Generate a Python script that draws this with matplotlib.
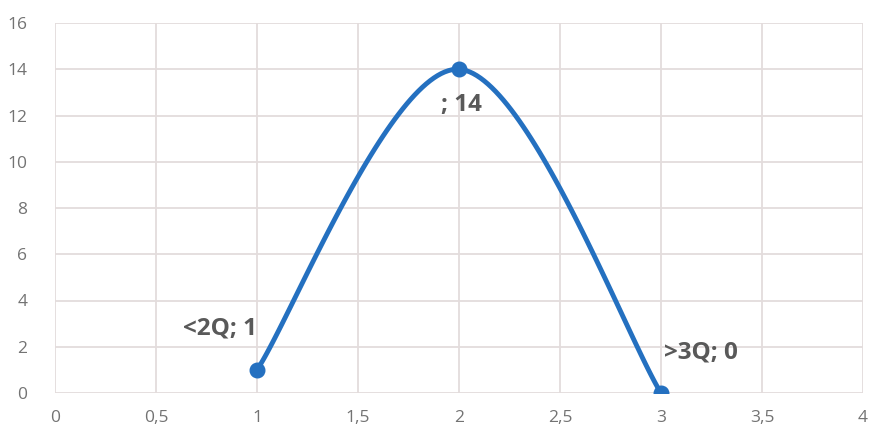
import numpy as np
import matplotlib.pyplot as plt

# data
x = [1, 2, 3]
y = [1, 14, 0]
labels = ["<2Q; 1", "; 14", ">3Q; 0"]
xticks = [0, 0.5, 1, 1.5, 2, 2.5, 3, 3.5, 4]
yticks = [0, 2, 4, 6, 8, 10, 12, 14, 16]

plt.rcParams['font.family'] = ['Open Sans', 'DejaVu Sans']

def smooth(px, py, n=60):
    # excel-like smoothed line: catmull-rom as cubic bezier
    P = np.column_stack([px, py]).astype(float)
    P = np.vstack([P[0], P, P[-1]])
    out = []
    for i in range(1, len(P) - 2):
        p0, p1 = P[i], P[i + 1]
        c1 = p0 + (P[i + 1] - P[i - 1]) / 6
        c2 = p1 - (P[i + 2] - P[i]) / 6
        t = np.linspace(0, 1, n)[:, None]
        seg = (1-t)**3*p0 + 3*(1-t)**2*t*c1 + 3*(1-t)*t**2*c2 + t**3*p1
        out.append(seg)
    out = np.vstack(out)
    return out[:, 0], out[:, 1]

fig = plt.figure(figsize=(8.72, 4.32), dpi=100)
ax = fig.add_axes([55/872, 39/432, 808/872, 370/432])

sx, sy = smooth(x, y)
col = '#2470C0'
ax.plot(sx, sy, color=col, lw=3.5, solid_capstyle='round', zorder=3)
ax.plot(x, y, 'o', color=col, ms=10.5, zorder=4)

offs = [(-27, 29.5), (1.5, -26), (29, 29.5)]
for xi, yi, lab, o in zip(x, y, labels, offs):
    ax.annotate(lab, (xi, yi), xytext=o, textcoords='offset points',
                ha='center', va='center', fontsize=17.5, fontweight='bold',
                color='#595959')

ax.set_xlim(0, 4)
ax.set_ylim(0, 16)
ax.set_xticks(xticks)
ax.set_yticks(yticks)
ax.set_xticklabels([('%g' % v).replace('.', ',') for v in xticks])
ax.set_yticklabels(['%g' % v for v in yticks])
ax.tick_params(length=0, labelsize=12.5, labelcolor='#737373', pad=12)
ax.tick_params(axis='y', pad=20)
ax.grid(True, color='#e3dcdc', lw=1.3)
ax.set_axisbelow(True)
for s in ax.spines.values():
    s.set_visible(False)

fig.savefig('out.png', dpi=100)
